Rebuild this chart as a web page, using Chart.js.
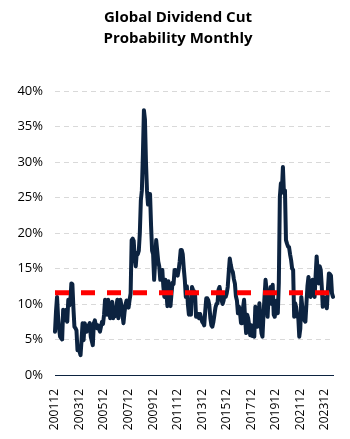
<!DOCTYPE html>
<html>
<head>
<meta charset="utf-8">
<script src="https://cdn.jsdelivr.net/npm/chart.js@4.4.1/dist/chart.umd.min.js"></script>
<style>
  html, body { margin: 0; padding: 0; background: #fff; }
  #wrap { position: relative; width: 350px; height: 439px; }
  #title {
    position: absolute; left: 6px; top: 6px; width: 344px;
    text-align: center; font-family: 'Open Sans', 'Liberation Sans', sans-serif;
    font-weight: bold; font-size: 15px; line-height: 21px; color: #000;
  }
</style>
</head>
<body>
<div id="wrap">
  <canvas id="myChart" width="350" height="439"></canvas>
  <div id="title">Global Dividend Cut<br>Probability Monthly</div>
</div>
<script>
// monthly series from 200112 (in %)
const startYear = 2001;
const startMonth = 12;
const cutProbability = [
  6.1, 9.0, 11.0, 8.2, 6.5, 5.4, 5.2, 5.0, 9.2, 7.7, 8.5, 9.2,
  7.5, 10.6, 9.8, 10.3, 12.9, 12.8, 9.5, 6.8, 6.6, 6.3, 3.5, 3.8,
  3.3, 2.8, 5.0, 7.3, 4.9, 7.3, 6.8, 6.1, 6.8, 7.0, 7.3, 5.4,
  4.8, 4.2, 7.3, 7.7, 7.0, 6.6, 7.0, 6.5, 6.1, 6.8, 7.5, 7.2,
  8.5, 10.6, 9.5, 8.5, 10.6, 9.2, 8.0, 9.0, 10.3, 8.0, 8.8, 8.3,
  9.5, 10.6, 8.0, 9.3, 10.6, 9.8, 8.5, 7.3, 8.8, 9.9, 10.5, 9.8,
  9.5, 10.6, 11.5, 19.0, 19.2, 18.9, 16.5, 15.3, 17.2, 17.0, 17.5, 20.0,
  24.6, 26.0, 31.0, 37.3, 36.0, 30.0, 26.0, 24.0, 25.5, 25.5, 21.0, 17.5,
  17.0, 13.4, 16.0, 19.0, 17.5, 16.0, 15.3, 13.4, 14.0, 14.8, 12.5, 11.0,
  13.4, 11.5, 9.7, 13.2, 11.0, 9.7, 11.5, 13.0, 12.8, 14.8, 14.8, 14.2,
  14.0, 14.8, 16.0, 17.6, 17.6, 17.0, 15.0, 13.4, 11.0, 12.5, 10.0, 8.5,
  8.7, 8.5, 12.4, 12.0, 11.8, 11.5, 8.2, 8.2, 8.6, 8.0, 8.6, 8.0,
  7.5, 7.3, 7.0, 9.0, 10.8, 10.8, 10.5, 9.8, 8.0, 7.0, 6.8, 7.5,
  8.5, 9.5, 10.0, 10.1, 12.0, 12.4, 11.5, 10.5, 10.0, 10.5, 11.5, 11.0,
  11.5, 12.4, 14.5, 16.4, 15.5, 14.8, 14.5, 13.5, 12.9, 11.1, 10.5, 8.7,
  9.6, 8.8, 7.3, 7.3, 9.5, 10.6, 8.0, 5.9, 8.5, 8.0, 7.0, 5.6,
  7.0, 5.5, 6.5, 5.4, 9.6, 8.5, 6.8, 8.0, 10.1, 7.5, 5.9, 5.4,
  8.5, 11.0, 13.4, 12.0, 8.2, 11.1, 10.5, 12.4, 10.0, 12.7, 8.5, 8.2,
  9.5, 10.5, 8.7, 13.0, 25.1, 27.0, 26.0, 29.3, 25.6, 26.0, 19.0, 18.5,
  18.1, 18.0, 17.0, 16.2, 15.0, 14.8, 8.2, 10.1, 9.5, 8.2, 8.2, 5.4,
  6.5, 11.0, 9.5, 8.8, 7.7, 7.5, 10.0, 12.5, 13.8, 12.5, 11.0, 12.0,
  13.4, 11.5, 11.0, 14.0, 16.7, 14.5, 12.9, 15.3, 14.8, 12.5, 9.6, 11.0,
  10.5, 10.1, 9.4, 12.0, 14.3, 14.2, 14.0, 11.5, 11.0
];
const averageLevel = [11.6];
const tickLabels = ['200112', '200312', '200512', '200712', '200912', '201112',
  '201312', '201512', '201712', '201912', '202112', '202312'];

// month categories yyyymm
const months = [];
let y = startYear, m = startMonth;
for (let i = 0; i < cutProbability.length; i++) {
    months.push(String(y) + String(m).padStart(2, '0'));
    m++;
    if (m > 12) { m = 1; y++; }
}
const averageLine = months.map(() => averageLevel[0]);

const navy = '#0c2340';
const tickFont = { family: "'Open Sans', 'Liberation Sans', sans-serif", size: 12 };

const ctx = document.getElementById('myChart').getContext('2d');
const chart = new Chart(ctx, {
    type: 'line',
    data: {
        labels: months,
        datasets: [{
            label: 'Average',
            data: averageLine,
            borderColor: '#ff0000',
            borderWidth: 5,
            borderDash: [14, 12],
            pointRadius: 0,
            order: 0
        }, {
            label: 'Dividend Cut Probability',
            data: cutProbability,
            borderColor: navy,
            borderWidth: 4,
            borderJoinStyle: 'round',
            borderCapStyle: 'round',
            pointRadius: 0,
            tension: 0,
            order: 1
        }]
    },
    options: {
        responsive: false,
        animation: false,
        events: [],
        layout: { padding: { left: 0, right: 17, top: 91, bottom: 0 } },
        plugins: {
            legend: { display: false },
            tooltip: { enabled: false },
            title: { display: false }
        },
        scales: {
            x: {
                grid: { display: false },
                border: { display: true, color: navy, width: 1 },
                ticks: {
                    autoSkip: false,
                    minRotation: 90,
                    maxRotation: 90,
                    padding: 6,
                    color: '#000',
                    font: tickFont,
                    callback: function (value, index) {
                        const lab = months[index];
                        return tickLabels.includes(lab) ? lab : null;
                    }
                },
                afterFit: (scale) => { scale.height = 64; }
            },
            y: {
                min: 0,
                max: 40,
                grid: {
                    drawTicks: false,
                    color: (c) => c.tick && c.tick.value === 0 ? 'rgba(0,0,0,0)' : '#d9d9d9'
                },
                border: { display: false, dash: [5, 4] },
                ticks: {
                    stepSize: 5,
                    padding: 12,
                    color: '#000',
                    font: Object.assign({}, tickFont, { size: 13 }),
                    callback: (v) => v + '%'
                },
                afterFit: (scale) => { scale.width = 55; }
            }
        }
    }
});
</script>
</body>
</html>
